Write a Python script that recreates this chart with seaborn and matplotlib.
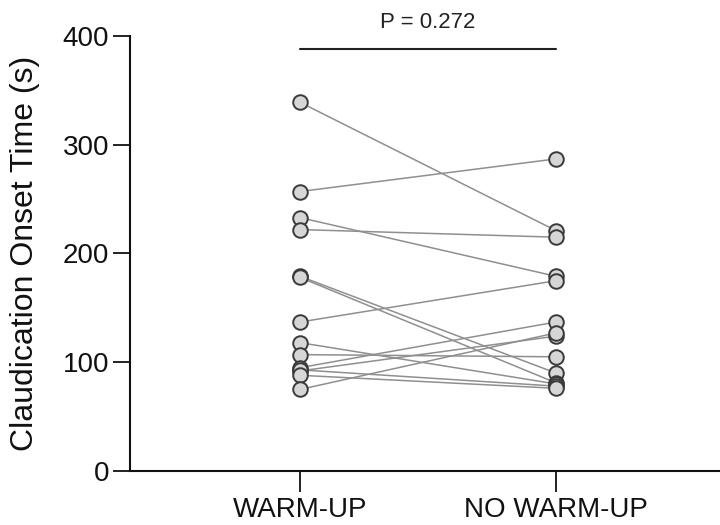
import seaborn as sns
import matplotlib.pyplot as plt
import pandas as pd

# paired claudication onset times (s), one entry per subject
conditions = ['WARM-UP', 'NO WARM-UP']
warm_up = [339, 257, 233, 222, 179, 178, 137, 118, 107, 95, 92, 93, 88, 75]
no_warm_up = [221, 287, 179, 215, 90, 81, 175, 80, 105, 137, 124, 78, 76, 127]
p_text = 'P = 0.272'

n = len(warm_up)
df = pd.DataFrame({
    'subject': list(range(n)) * 2,
    'cond': [0] * n + [1] * n,
    'time': warm_up + no_warm_up,
})

sns.set_style('white')
plt.rcParams['font.family'] = ['Liberation Sans', 'DejaVu Sans']

fig = plt.figure(figsize=(7.2, 5.25), dpi=100)
ax = fig.add_axes([0.1806, 0.1029, 0.8194, 0.8285])

sns.lineplot(data=df, x='cond', y='time', units='subject', estimator=None,
             color='#8f8f8f', linewidth=1.1, ax=ax, legend=False)
sns.scatterplot(data=df, x='cond', y='time', color='#d6d6d6', edgecolor='#3a3a3a',
                linewidth=1.4, s=110, ax=ax, legend=False, zorder=3)

# significance bar
ax.plot([0, 1], [388, 388], color='#222222', lw=1.5, clip_on=False)
ax.text(0.5, 403, p_text, ha='center', va='bottom', fontsize=16, color='#222222')

ax.set_xlim(-0.664, 1.64)
ax.set_ylim(0, 400)
ax.set_xticks([0, 1])
ax.set_xticklabels(conditions)
ax.set_yticks([0, 100, 200, 300, 400])
ax.set_xlabel('')
ax.set_ylabel('Claudication Onset Time (s)', fontsize=23, color='#111111', labelpad=16)

for s in ['top', 'right']:
    ax.spines[s].set_visible(False)
for s in ['left', 'bottom']:
    ax.spines[s].set_color('#111111')
    ax.spines[s].set_linewidth(1.5)
ax.tick_params(axis='y', length=12, width=1.3, labelsize=20, colors='#111111', pad=3,
               left=True)
ax.tick_params(axis='x', length=15, width=1.3, labelsize=20, colors='#111111', pad=4,
               bottom=True)

fig.savefig('out.png', dpi=100)
